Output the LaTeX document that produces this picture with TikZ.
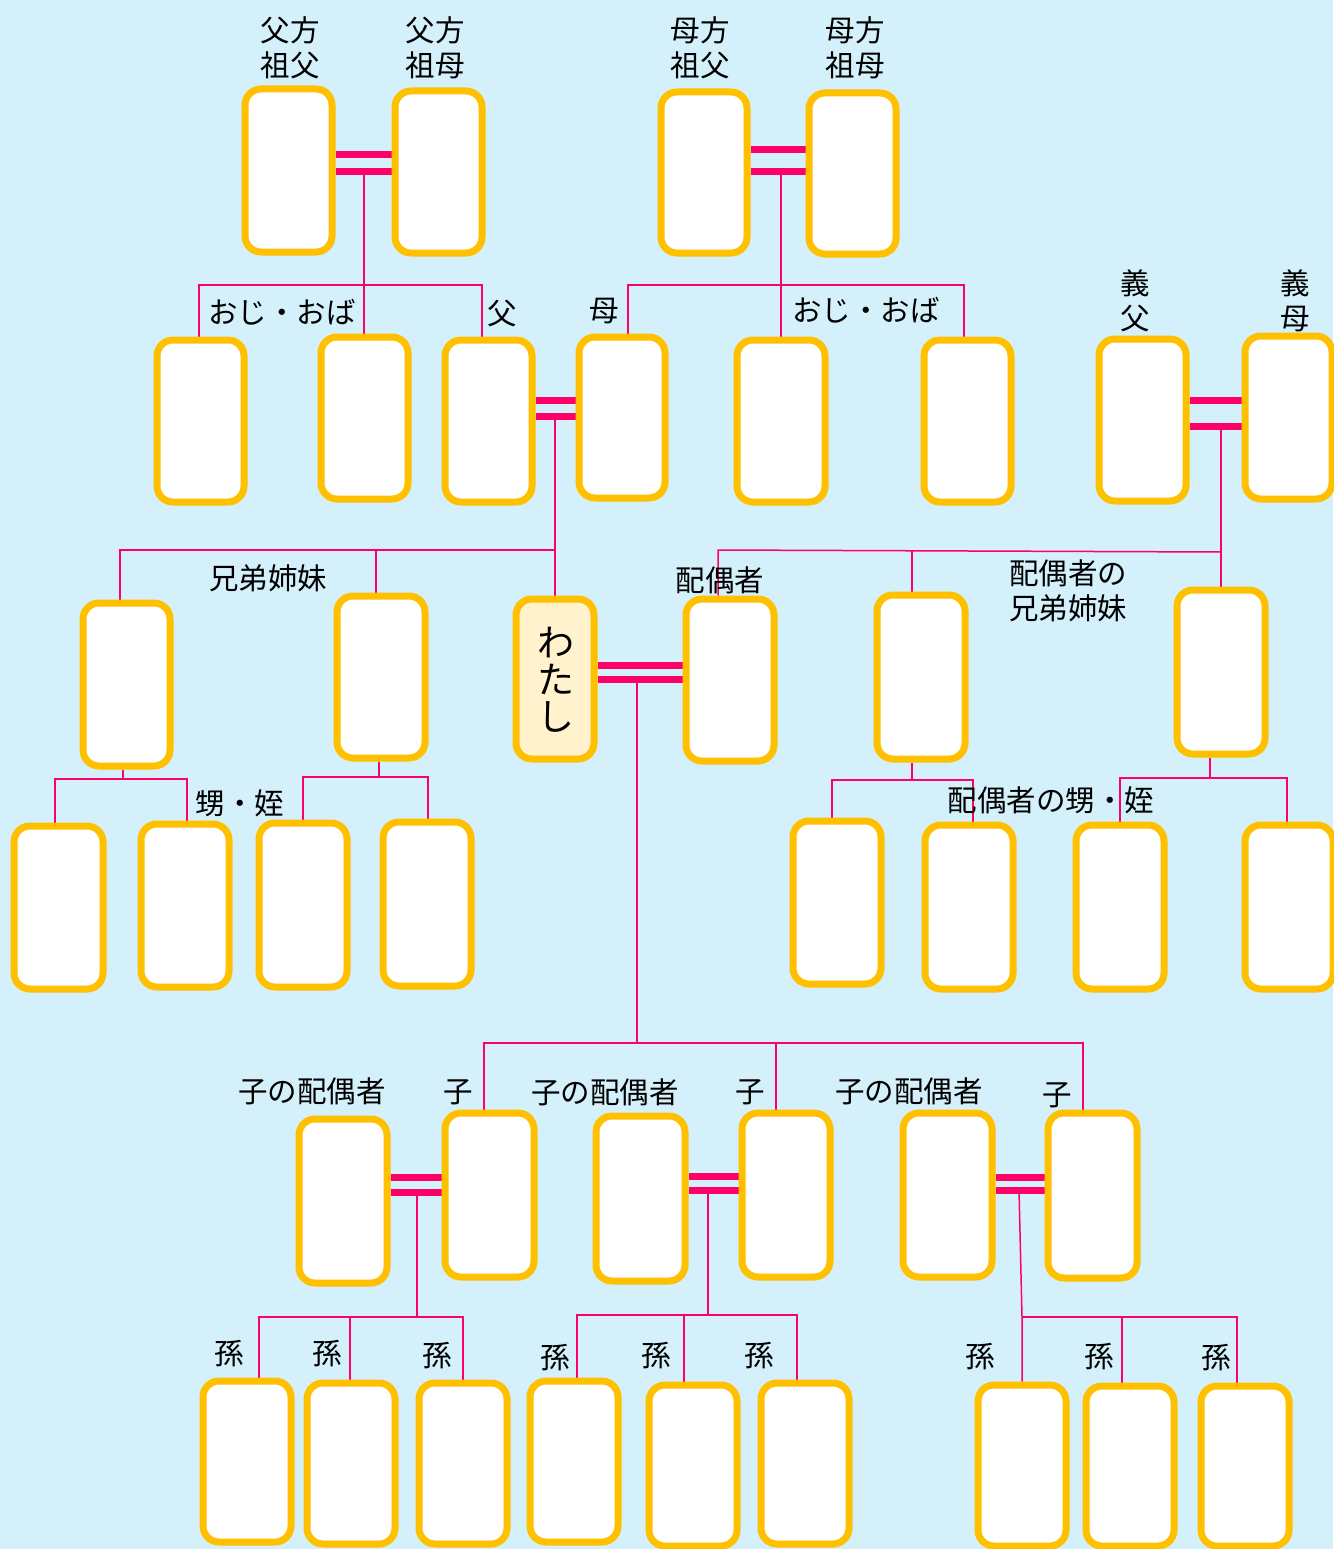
\documentclass[tikz,border=0pt]{standalone}
\usepackage{fontspec}
\setmainfont{Noto Sans CJK JP}
\pgfdeclarelayer{bg}
\pgfdeclarelayer{lines}
\pgfsetlayers{bg,lines,main}
\definecolor{sky}{RGB}{212,240,250}
\definecolor{gold}{RGB}{255,192,0}
\definecolor{pinkline}{RGB}{255,0,102}
\definecolor{cream}{RGB}{255,242,204}
\tikzset{
  box/.style={draw=gold, line width=7pt, fill=white, rounded corners=16pt, inner sep=0pt},
  ln/.style={draw=pinkline, line width=1.5pt},
  bar/.style={draw=pinkline, line width=7pt},
  lbl/.style={font=\fontsize{29.5}{35}\selectfont, align=center, inner sep=0pt},
}
\newcommand\pbx[6][]{\node[box,#1, minimum width={#5-#3-6}, minimum height={#6-#4-6}] (#2) at ({(#3+#5)/2},{(#4+#6)/2}) {};}
\begin{document}
\begin{tikzpicture}[x=1pt,y=-1pt]
\useasboundingbox (0,0) rectangle (1333,1549);
\begin{pgfonlayer}{bg}
\fill[sky] (0,0) rectangle (1333,1549);
\end{pgfonlayer}
% row 1
\pbx{pgf}{242}{86}{335}{255}
\pbx{pgm}{392}{88}{485}{256}
\pbx{mgf}{658}{89}{750}{256}
\pbx{mgm}{806}{90}{899}{257}
% row 2
\pbx{ua}{154}{337}{247}{505}
\pbx{ub}{318}{334}{411}{502}
\pbx{fa}{442}{337}{535}{505}
\pbx{mo}{576}{334}{668}{501}
\pbx{uc}{734}{337}{828}{505}
\pbx{ud}{921}{337}{1014}{505}
\pbx{gf}{1096}{336}{1189}{504}
\pbx{gm}{1242}{333}{1335}{502}
% row 3
\pbx{sa}{80}{600}{173}{769}
\pbx{sb}{334}{593}{428}{761}
\pbx[fill=cream]{me}{513}{596}{597}{762}
\pbx{sp}{683}{596}{777}{764}
\pbx{ssa}{874}{592}{968}{762}
\pbx{ssb}{1174}{587}{1268}{757}
% row 4
\pbx{na}{11}{823}{106}{992}
\pbx{nb}{138}{821}{232}{990}
\pbx{nc}{256}{820}{350}{990}
\pbx{nd}{380}{819}{474}{989}
\pbx{sna}{790}{818}{884}{987}
\pbx{snb}{922}{822}{1016}{992}
\pbx{snc}{1073}{822}{1167}{992}
\pbx{snd}{1242}{822}{1336}{992}
% row 5
\pbx{csa}{296}{1116}{390}{1286}
\pbx{ca}{442}{1110}{537}{1280}
\pbx{csb}{593}{1113}{688}{1284}
\pbx{cb}{739}{1110}{833}{1280}
\pbx{csc}{900}{1110}{995}{1280}
\pbx{cc}{1045}{1110}{1140}{1281}
% row 6
\pbx{ga}{200}{1378}{294}{1545}
\pbx{gb}{304}{1380}{398}{1547}
\pbx{gc}{416}{1380}{510}{1547}
\pbx{gd}{527}{1378}{621}{1545}
\pbx{ge}{646}{1382}{740}{1549}
\pbx{gg}{758}{1380}{852}{1547}
\pbx{gh}{975}{1382}{1069}{1549}
\pbx{gi}{1083}{1383}{1177}{1549}
\pbx{gj}{1198}{1383}{1292}{1549}

\begin{pgfonlayer}{lines}
% paternal grandparents
\draw[bar] (pgf.east |- 0,155) -- (pgm.west |- 0,155);
\draw[bar] (pgf.east |- 0,172) -- (pgm.west |- 0,172);
\coordinate (pj) at (364,172);
\draw[ln] (pj) -- (ub.north -| pj);
\draw[ln] (ua.north -| 199,0) -- (199,285) -- (482,285) -- (fa.north -| 482,0);
% maternal grandparents
\draw[bar] (mgf.east |- 0,150) -- (mgm.west |- 0,150);
\draw[bar] (mgf.east |- 0,172) -- (mgm.west |- 0,172);
\coordinate (mj) at (781,172);
\draw[ln] (mj) -- (uc.north -| mj);
\draw[ln] (mo.north -| 628,0) -- (628,285) -- (964,285) -- (ud.north -| 964,0);
% parents
\draw[bar] (fa.east |- 0,400) -- (mo.west |- 0,400);
\draw[bar] (fa.east |- 0,416) -- (mo.west |- 0,416);
\coordinate (fj) at (555,416);
\draw[ln] (fj) -- (me.north -| fj);
\draw[ln] (555,550) -- (120,550) -- (sa.north -| 120,0);
\draw[ln] (376,550) -- (sb.north -| 376,0);
% in-laws
\draw[bar] (gf.east |- 0,400) -- (gm.west |- 0,400);
\draw[bar] (gf.east |- 0,426) -- (gm.west |- 0,426);
\coordinate (ij) at (1221,426);
\draw[ln] (ij) -- (ssb.north -| ij);
\draw[ln] (1221,552) -- (718,550) -- (sp.north -| 718,0);
\draw[ln] (912,551) -- (ssa.north -| 912,0);
% me and spouse
\draw[bar] (me.east |- 0,665) -- (sp.west |- 0,665);
\draw[bar] (me.east |- 0,679) -- (sp.west |- 0,679);
\coordinate (mej) at (637,679);
\draw[ln] (mej) -- (637,1043);
\draw[ln] (ca.north -| 484,0) -- (484,1043) -- (1083,1043) -- (cc.north -| 1083,0);
\draw[ln] (776,1043) -- (cb.north -| 776,0);
% nephews
\draw[ln] (sa.south -| 123,0) -- (123,779);
\draw[ln] (na.north -| 55,0) -- (55,779) -- (187,779) -- (nb.north -| 187,0);
\draw[ln] (sb.south -| 379,0) -- (379,777);
\draw[ln] (nc.north -| 303,0) -- (303,777) -- (428,777) -- (nd.north -| 428,0);
\draw[ln] (ssa.south -| 912,0) -- (912,780);
\draw[ln] (sna.north -| 832,0) -- (832,780) -- (973,780) -- (snb.north -| 973,0);
\draw[ln] (ssb.south -| 1210,0) -- (1210,778);
\draw[ln] (snc.north -| 1120,0) -- (1120,778) -- (1287,778) -- (snd.north -| 1287,0);
% children
\draw[bar] (csa.east |- 0,1177) -- (ca.west |- 0,1177);
\draw[bar] (csa.east |- 0,1192) -- (ca.west |- 0,1192);
\draw[ln] (417,1192) -- (417,1317);
\draw[ln] (ga.north -| 259,0) -- (259,1317) -- (463,1317) -- (gc.north -| 463,0);
\draw[ln] (350,1317) -- (gb.north -| 350,0);
\draw[bar] (csb.east |- 0,1176) -- (cb.west |- 0,1176);
\draw[bar] (csb.east |- 0,1190) -- (cb.west |- 0,1190);
\draw[ln] (708,1190) -- (708,1315);
\draw[ln] (gd.north -| 577,0) -- (577,1315) -- (797,1315) -- (gg.north -| 797,0);
\draw[ln] (684,1315) -- (ge.north -| 684,0);
\draw[bar] (csc.east |- 0,1177) -- (cc.west |- 0,1177);
\draw[bar] (csc.east |- 0,1190) -- (cc.west |- 0,1190);
\draw[ln] (1019,1190) -- (1022,1317) -- (gh.north -| 1022,0);
\draw[ln] (1022,1317) -- (1237,1317) -- (gj.north -| 1237,0);
\draw[ln] (1122,1317) -- (gi.north -| 1122,0);
\end{pgfonlayer}

% labels
\node[lbl] (t1) at (290,48) {父方\\祖父};
\node[lbl] (t2) at (435,48) {父方\\祖母};
\node[lbl] (t3) at (700,48) {母方\\祖父};
\node[lbl] (t4) at (855,48) {母方\\祖母};
\node[lbl] (t5) at (282,312) {おじ・おば};
\node[lbl] (t6) at (502,313) {父};
\node[lbl] (t7) at (604,311) {母};
\node[lbl] (t8) at (866,310) {おじ・おば};
\node[lbl] (t9) at (1135,301) {義\\父};
\node[lbl] (t10) at (1295,301) {義\\母};
\node[lbl] (t11) at (268,578) {兄弟姉妹};
\node[lbl] (t12) at (720,580) {配偶者};
\node[lbl] (t13) at (1068,591) {配偶者の\\兄弟姉妹};
\node[font=\fontsize{37}{37}\selectfont, align=center, inner sep=0pt] (t14) at (556,680) {わ\\た\\し};
\node[lbl] (t15) at (240,803) {甥・姪};
\node[lbl] (t16) at (1051,800) {配偶者の甥・姪};
\node[lbl] (t17) at (312,1091) {子の配偶者};
\node[lbl] (t18) at (458,1092) {子};
\node[lbl] (t19) at (605,1092) {子の配偶者};
\node[lbl] (t20) at (750,1092) {子};
\node[lbl] (t21) at (909,1091) {子の配偶者};
\node[lbl] (t22) at (1057,1095) {子};
\node[lbl] (m1) at (229,1354) {孫};
\node[lbl] (m2) at (327,1354) {孫};
\node[lbl] (m3) at (437,1356) {孫};
\node[lbl] (m4) at (555,1358) {孫};
\node[lbl] (m5) at (656,1356) {孫};
\node[lbl] (m6) at (759,1356) {孫};
\node[lbl] (m7) at (980,1357) {孫};
\node[lbl] (m8) at (1099,1357) {孫};
\node[lbl] (m9) at (1216,1358) {孫};
\end{tikzpicture}
\end{document}
